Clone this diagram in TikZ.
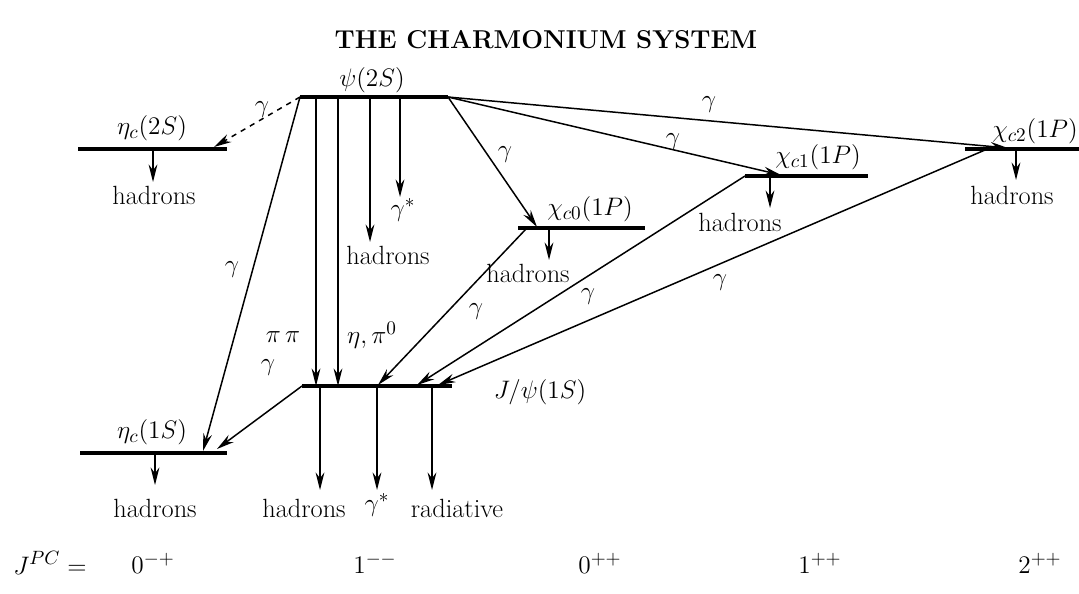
\documentclass[tikz,border=0pt]{standalone}
\usetikzlibrary{arrows.meta}
\begin{document}
\begin{tikzpicture}[x=0.02cm,y=-0.02cm,>={Stealth[length=10pt,width=5pt]},every node/.style={font=\fontsize{15}{18}\selectfont,inner sep=1pt},lv/.style={line width=2.3pt},tr/.style={->,line width=0.85pt}]
\useasboundingbox (0,0) rectangle (1079,593);
\node[font=\fontsize{14.7}{18}\selectfont\bfseries] (ttl) at (546,40){THE CHARMONIUM SYSTEM};
% levels
\coordinate (p2a) at (300,97);\coordinate (p2b) at (448,97);
\coordinate (e2a) at (78,149);\coordinate (e2b) at (227,149);
\coordinate (e1a) at (80,453);\coordinate (e1b) at (227,453);
\coordinate (j1a) at (302,386);\coordinate (j1b) at (452,386);
\coordinate (c0a) at (518,228);\coordinate (c0b) at (645,228);
\coordinate (c1a) at (745,176);\coordinate (c1b) at (868,176);
\coordinate (c2a) at (965,149);\coordinate (c2b) at (1079,149);
\foreach \a/\b in {p2a/p2b,e2a/e2b,e1a/e1b,j1a/j1b,c0a/c0b,c1a/c1b,c2a/c2b} \draw[lv] (\a)--(\b);
\node (p2) at (372,80){$\psi(2S)$};\node (e2) at (152,128){$\eta_c(2S)$};\node (e1) at (152,432){$\eta_c(1S)$};
\node (j1) at (540,392){$J/\psi(1S)$};\node (c0) at (590,209){$\chi_{c0}(1P)$};
\node (c1) at (818,157){$\chi_{c1}(1P)$};\node (c2) at (1035,131){$\chi_{c2}(1P)$};
% decays
\foreach \n/\x/\ya/\yb in {1/153/149/182,2/155/453/485,3/370/97/242,4/400/97/197,5/320/386/490,6/377/386/490,7/432/386/490,8/549/228/260,9/770/176/208,10/1016/149/180,11/316/97/386,12/338/97/386}
{\coordinate (d\n a) at (\x,\ya);\coordinate (d\n b) at (\x,\yb);\draw[tr] (d\n a)--(d\n b);}
\node (h1) at (154,195){hadrons};\node (h2) at (155,508){hadrons};\node (h3) at (388,255){hadrons};
\node (h4) at (304,508){hadrons};\node (h5) at (528,273){hadrons};\node (h6) at (740,222){hadrons};\node (h7) at (1012,195){hadrons};
\node (g1) at (403,210){$\gamma^*$};\node (g2) at (377,505){$\gamma^*$};\node (rad) at (457,508){radiative};
\node (pp) at (283,337){$\pi\,\pi$};\node (ep) at (372,335){$\eta,\pi^0$};
% radiative transitions
\coordinate (e2t) at (214,147);\coordinate (e1t) at (203,451);\coordinate (c0t) at (537,227);\coordinate (c1t) at (781,175);
\coordinate (c2t) at (1008,148);\coordinate (c0s) at (526,229);\coordinate (c2s) at (985,150);
\coordinate (jt0) at (378,385);\coordinate (jt1) at (417,385);\coordinate (jt2) at (438,385);\coordinate (e1u) at (217,449);
\draw[tr,dashed] (p2a)--(e2t);\draw[tr] (p2a)--(e1t);\draw[tr] (p2b)--(c0t);\draw[tr] (p2b)--(c1t);\draw[tr] (p2b)--(c2t);
\draw[tr] (c0s)--(jt0);\draw[tr] (c1a)--(jt1);\draw[tr] (c2s)--(jt2);\draw[tr] (j1a)--(e1u);
\foreach \n/\x/\y in {1/262/110,2/232/270,3/505/155,4/673/142,5/709/105,6/476/312,7/588/297,8/720/283,9/268/368}
\node (y\n) at (\x,\y){$\gamma$};
% quantum numbers
\node (jpc) at (50,563){$J^{PC}=$};\node (q1) at (153,563){$0^{-+}$};\node (q2) at (375,563){$1^{--}$};
\node (q3) at (600,563){$0^{++}$};\node (q4) at (820,563){$1^{++}$};\node (q5) at (1040,563){$2^{++}$};
\end{tikzpicture}
\end{document}
